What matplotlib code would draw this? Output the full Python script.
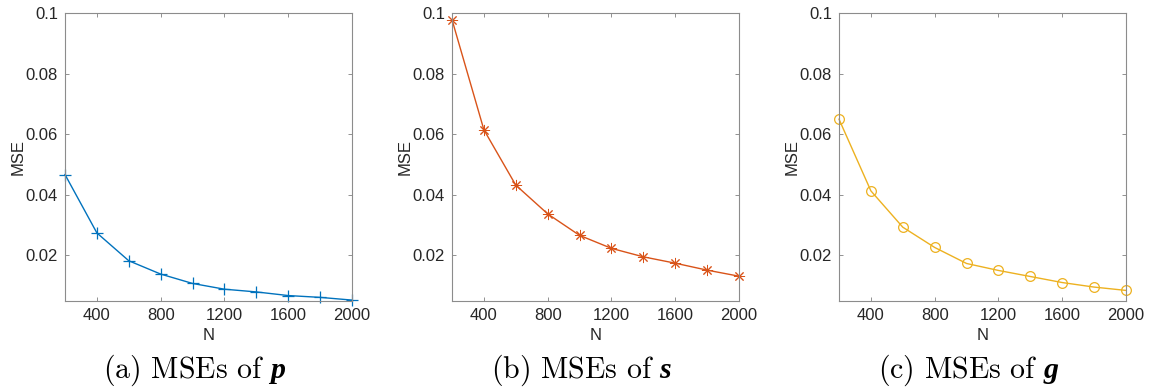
import numpy as np
import matplotlib
matplotlib.use('Agg')
import matplotlib.pyplot as plt

# sample sizes and the measured MSE of each estimate
N = [200, 400, 600, 800, 1000, 1200, 1400, 1600, 1800, 2000]
mse_p = [0.0466, 0.0273, 0.0181, 0.0137, 0.0106, 0.0087, 0.0078, 0.0066, 0.0060, 0.0051]
mse_s = [0.0978, 0.0614, 0.0431, 0.0336, 0.0265, 0.0222, 0.0194, 0.0173, 0.0150, 0.0130]
mse_g = [0.0649, 0.0412, 0.0292, 0.0225, 0.0172, 0.0149, 0.0129, 0.0109, 0.0094, 0.0083]

xticks = [400, 800, 1200, 1600, 2000]
yticks = [0.02, 0.04, 0.06, 0.08, 0.1]
yticklabels = ['0.02', '0.04', '0.06', '0.08', '0.1']
captions = [r'$\mathrm{(a)\ MSEs\ of\ }\boldsymbol{p}$',
            r'$\mathrm{(b)\ MSEs\ of\ }\boldsymbol{s}$',
            r'$\mathrm{(c)\ MSEs\ of\ }\boldsymbol{g}$']

plt.rcParams['font.family'] = ['Liberation Sans', 'DejaVu Sans']
plt.rcParams['mathtext.fontset'] = 'custom'
plt.rcParams['mathtext.rm'] = 'cmr10'
plt.rcParams['mathtext.bfit'] = 'Liberation Serif:italic:bold'

# MATLAB-like '*' : eight-armed asterisk
asterisk = (8, 2, 0)
series = [(mse_p, '#0072BD', '+', 8, 0.9),
          (mse_s, '#D95319', asterisk, 8, 0.7),
          (mse_g, '#EDB120', 'o', 7, 0.9)]
lefts = [65, 452, 839]

fig = plt.figure(figsize=(11.54, 3.91), dpi=100)
W, H = 1154.0, 391.0

for i, (vals, col, mk, ms, mew) in enumerate(series):
    ax = fig.add_axes([lefts[i] / W, 1 - 301 / H, 287 / W, 288 / H])
    ax.plot(N, vals, color=col, lw=1.0, marker=mk, ms=ms,
            mew=mew, fillstyle='none', clip_on=False)
    ax.set_xlim(200, 2000)
    ax.set_ylim(0.0048, 0.1)
    ax.set_xticks(xticks)
    ax.set_yticks(yticks)
    ax.set_yticklabels(yticklabels)
    ax.tick_params(direction='in', length=3, width=0.6, colors='#808080',
                   labelcolor='#262626', labelsize=12, top=True, right=True)
    ax.tick_params(axis='x', pad=5)
    ax.tick_params(axis='y', pad=5)
    for sp in ax.spines.values():
        sp.set_color('#8c8c8c')
        sp.set_linewidth(0.8)
    ax.set_xlabel('N', fontsize=12, color='#262626', labelpad=4)
    ax.set_ylabel('MSE', fontsize=12, color='#262626', labelpad=0)
    fig.text((lefts[i] + 130) / W, 1 - 370 / H, captions[i],
             ha='center', va='center', fontsize=21.5)

fig.savefig('out.png', dpi=100)
